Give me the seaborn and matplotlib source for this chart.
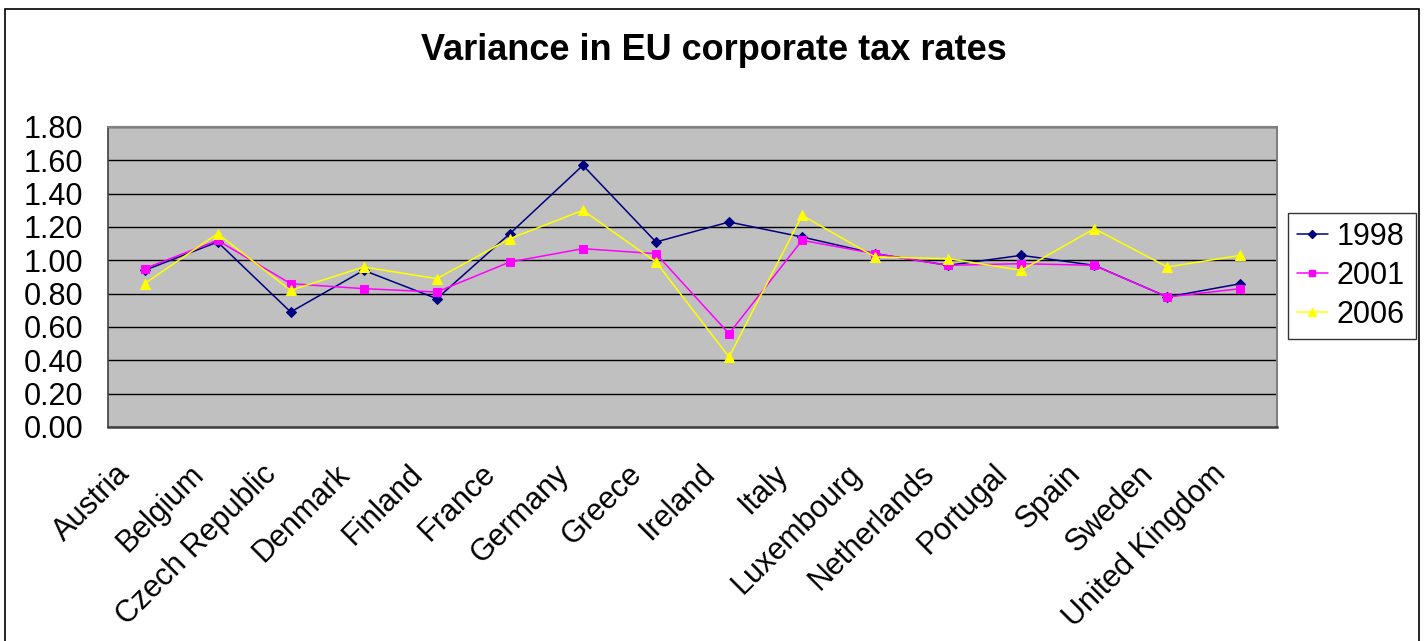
import matplotlib
matplotlib.use("Agg")
import matplotlib.pyplot as plt
import matplotlib.transforms as mtransforms
from matplotlib.patches import Rectangle
from matplotlib.lines import Line2D
import numpy as np
import pandas as pd
import seaborn as sns

countries = ["Austria", "Belgium", "Czech Republic", "Denmark", "Finland", "France",
             "Germany", "Greece", "Ireland", "Italy", "Luxembourg", "Netherlands",
             "Portugal", "Spain", "Sweden", "United Kingdom"]
v1998 = [0.94, 1.11, 0.69, 0.94, 0.77, 1.16, 1.57, 1.11, 1.23, 1.14, 1.04, 0.97, 1.03, 0.97, 0.78, 0.86]
v2001 = [0.95, 1.12, 0.86, 0.83, 0.81, 0.99, 1.07, 1.04, 0.56, 1.12, 1.04, 0.97, 0.98, 0.97, 0.78, 0.83]
v2006 = [0.86, 1.16, 0.82, 0.96, 0.89, 1.13, 1.30, 0.99, 0.42, 1.27, 1.02, 1.01, 0.94, 1.19, 0.96, 1.03]
years = ["1998", "2001", "2006"]
yticks = [0.0, 0.2, 0.4, 0.6, 0.8, 1.0, 1.2, 1.4, 1.6, 1.8]
title = "Variance in EU corporate tax rates"

df = pd.DataFrame({
    "country": countries * 3,
    "value": v1998 + v2001 + v2006,
    "year": [y for y in years for _ in countries],
})

sns.set_style("white")
plt.rcParams["font.family"] = ["Liberation Sans", "DejaVu Sans"]
plt.rcParams["text.color"] = "black"
plt.rcParams["xtick.color"] = "black"
plt.rcParams["ytick.color"] = "black"

W, H = 1425, 641
fig = plt.figure(figsize=(W / 100, H / 100), dpi=100)
ax = fig.add_axes([108 / W, 1 - 427 / H, (1277 - 108) / W, (427 - 127) / H])
ax.set_facecolor("#C0C0C0")

palette = {"1998": "#000080", "2001": "#FF00FF", "2006": "#FFFF00"}
markers = {"1998": "D", "2001": "s", "2006": "^"}
msizes = {"1998": 4.8, "2001": 5.5, "2006": 6.5}

sns.lineplot(data=df, x="country", y="value", hue="year", style="year",
             palette=palette, markers=markers, dashes=False, ax=ax,
             linewidth=1.1, legend=False, sort=False)

for line in ax.lines:
    c = line.get_color()
    line.set_markeredgecolor(c)
    line.set_markerfacecolor(c)
for line, y in zip(ax.lines, years):
    line.set_markersize(msizes[y])

ax.set_xlim(-0.5, len(countries) - 0.5)
ax.set_ylim(0, 1.8)
ax.set_yticks(yticks)
ax.set_yticklabels([f"{t:.2f}" for t in yticks], fontsize=22)
ax.yaxis.grid(True, color="black", linewidth=1)
ax.set_axisbelow(True)

ax.set_xticks(np.arange(len(countries)))
ax.set_xticks(np.arange(len(countries) + 1) - 0.5, minor=True)
ax.tick_params(axis="x", which="major", length=0, pad=23, labelcolor="black")
ax.tick_params(axis="x", which="minor", length=9, width=1, color="black", direction="out")
ax.tick_params(axis="y", length=9, width=1, color="black", direction="out", pad=9,
               labelcolor="black")
ax.set_xticklabels(countries, rotation=45, ha="right", fontsize=22)
offset = mtransforms.ScaledTranslation(-8 / 100, 0, fig.dpi_scale_trans)
for lbl in ax.get_xticklabels():
    lbl.set_transform(lbl.get_transform() + offset)
ax.set_xlabel("")
ax.set_ylabel("")

for s in ["top", "right"]:
    ax.spines[s].set_color("#808080")
    ax.spines[s].set_linewidth(1.5)
ax.spines["left"].set_color("#404040")
ax.spines["left"].set_linewidth(1.2)
ax.spines["bottom"].set_color("#404040")
ax.spines["bottom"].set_linewidth(1.8)

handles = [Line2D([], [], color=palette[y], marker=markers[y], markersize=msizes[y] - 0.5,
                  markeredgecolor=palette[y], markerfacecolor=palette[y], linewidth=1.1)
           for y in years]
leg = fig.legend(handles, years, loc="center left",
                 bbox_to_anchor=(1288 / W, 1 - 340 / H, 128 / W, 128 / H),
                 mode="expand", fontsize=22, frameon=True, fancybox=False,
                 handlelength=1.0, handletextpad=0.3, borderpad=0.3, labelspacing=0.3,
                 borderaxespad=0)
leg.get_frame().set_edgecolor("black")
leg.get_frame().set_linewidth(1)
for t in leg.get_texts():
    t.set_color("black")

fig.text(714 / W, 1 - 50 / H, title, ha="center", va="center", fontsize=26,
         fontweight="bold", color="black")

fig.patches.append(Rectangle((5 / W, -0.05), (1419 - 5) / W, 1 - 9 / H + 0.05,
                             transform=fig.transFigure, fill=False, edgecolor="black",
                             linewidth=1.2))

fig.savefig("out.png", dpi=100)
